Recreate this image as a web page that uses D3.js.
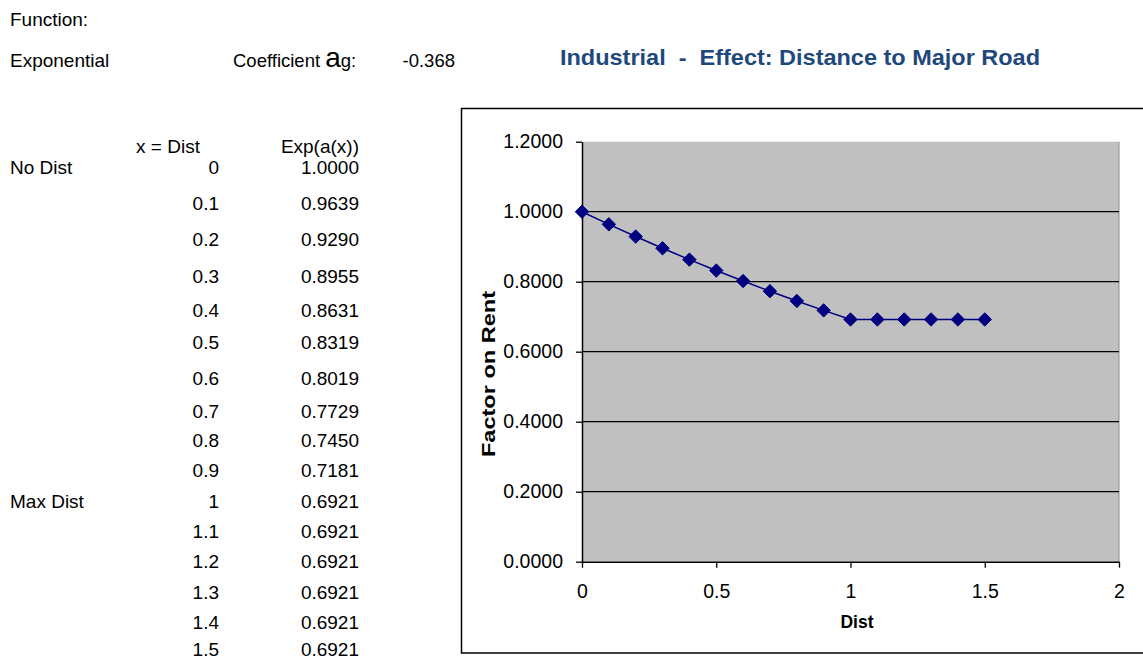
<!DOCTYPE html>
<html>
<head>
<meta charset="utf-8">
<script src="https://cdn.jsdelivr.net/npm/d3@7"></script>
<style>
  html, body { margin: 0; padding: 0; background: #fff; }
  svg text { font-family: "Liberation Sans", Arial, sans-serif; white-space: pre; }
</style>
</head>
<body>
<svg id="chart" width="1143" height="656"></svg>
<script>
// Rent factor for distance to a major road: f(x) = exp(a * x), capped at max distance
const coefficient = -0.368;
const distances = [0, 0.1, 0.2, 0.3, 0.4, 0.5, 0.6, 0.7, 0.8, 0.9, 1, 1.1, 1.2, 1.3, 1.4, 1.5];
const factors = [1.0000, 0.9639, 0.9290, 0.8955, 0.8631, 0.8319, 0.8019, 0.7729,
                 0.7450, 0.7181, 0.6921, 0.6921, 0.6921, 0.6921, 0.6921, 0.6921];
const rowNotes = ["No Dist", "", "", "", "", "", "", "", "", "", "Max Dist", "", "", "", "", ""];
const xTicks = [0, 0.5, 1, 1.5, 2];
const yTicks = [0, 0.2, 0.4, 0.6, 0.8, 1.0, 1.2];

const svg = d3.select("#chart");
const fmt4 = d3.format(".4f");

// ---- worksheet block on the left ----
const sheet = svg.append("g").attr("font-size", 19).attr("fill", "#000");
sheet.append("text").attr("x", 10).attr("y", 19).attr("dy", "0.36em").text("Function:");
sheet.append("text").attr("x", 10).attr("y", 60).attr("dy", "0.36em").text("Exponential");

const coef = sheet.append("text").attr("x", 233).attr("y", 60).attr("dy", "0.36em").attr("font-size", 18.5);
coef.append("tspan").text("Coefficient ");
coef.append("tspan").attr("font-size", 28).text("a");
coef.append("tspan").text("g:");
sheet.append("text").attr("x", 455).attr("y", 60).attr("dy", "0.36em")
  .attr("text-anchor", "end").attr("font-size", 18.5).text(String(coefficient));

sheet.append("text").attr("x", 168).attr("y", 146).attr("dy", "0.36em")
  .attr("text-anchor", "middle").text("x = Dist");
sheet.append("text").attr("x", 359).attr("y", 146).attr("dy", "0.36em")
  .attr("text-anchor", "end").text("Exp(a(x))");

// spreadsheet row centres (rows have slightly uneven heights)
const rowY = [167, 203, 239, 276, 310, 342, 378, 411, 440, 470, 501, 531, 561, 592, 622, 649];
const rows = sheet.selectAll("g.row").data(distances).join("g")
  .attr("class", "row")
  .attr("transform", (d, i) => `translate(0,${rowY[i]})`);
rows.append("text").attr("x", 10).attr("dy", "0.36em").text((d, i) => rowNotes[i]);
rows.append("text").attr("x", 219).attr("dy", "0.36em").attr("text-anchor", "end").text(d => String(d));
rows.append("text").attr("x", 359).attr("dy", "0.36em").attr("text-anchor", "end").text((d, i) => fmt4(factors[i]));

// ---- title ----
svg.append("text")
  .attr("x", 800).attr("y", 57).attr("dy", "0.36em")
  .attr("text-anchor", "middle")
  .attr("font-size", 22).attr("font-weight", "bold").attr("fill", "#1f497d")
  .attr("textLength", 480).attr("lengthAdjust", "spacingAndGlyphs")
  .text("Industrial  -  Effect: Distance to Major Road");

// ---- chart frame ----
svg.append("rect")
  .attr("x", 461.5).attr("y", 108.5).attr("width", 700).attr("height", 544.5)
  .attr("fill", "#fff").attr("stroke", "#000").attr("stroke-width", 1.5);

const x = d3.scaleLinear().domain([0, 2]).range([582, 1119]);
const y = d3.scaleLinear().domain([0, 1.2]).range([561.7, 141.7]);

// plot area
svg.append("rect")
  .attr("x", x(0)).attr("y", y(1.2))
  .attr("width", x(2) - x(0)).attr("height", y(0) - y(1.2))
  .attr("fill", "#c0c0c0");
svg.append("line")
  .attr("x1", x(2)).attr("x2", x(2)).attr("y1", y(1.2)).attr("y2", y(0))
  .attr("stroke", "#8c8c8c").attr("stroke-width", 1);

// horizontal gridlines
svg.append("g").selectAll("line").data(yTicks.filter(v => v > 0 && v < 1.2)).join("line")
  .attr("x1", x(0)).attr("x2", x(2))
  .attr("y1", d => y(d)).attr("y2", d => y(d))
  .attr("stroke", "#000").attr("stroke-width", 1.2);

// axes
const yAxis = svg.append("g").attr("transform", `translate(${x(0)},0)`)
  .call(d3.axisLeft(y).tickValues(yTicks).tickFormat(fmt4).tickSize(6).tickSizeOuter(0).tickPadding(13));
const xAxis = svg.append("g").attr("transform", `translate(0,${y(0)})`)
  .call(d3.axisBottom(x).tickValues(xTicks).tickFormat(d => String(d)).tickSize(6).tickSizeOuter(0).tickPadding(16));
[yAxis, xAxis].forEach(a => {
  a.select(".domain").attr("stroke", "#000").attr("stroke-width", 1.5);
  a.selectAll(".tick line").attr("stroke", "#000").attr("stroke-width", 1.3);
  a.selectAll(".tick text").attr("font-size", 19.5).attr("fill", "#000")
    .attr("font-family", "'Liberation Sans', Arial, sans-serif");
});

// axis titles
svg.append("text")
  .attr("x", 857).attr("y", 622).attr("dy", "0.36em").attr("text-anchor", "middle")
  .attr("font-size", 17.5).attr("font-weight", "bold").text("Dist");
svg.append("text")
  .attr("transform", "translate(489,374) rotate(-90)")
  .attr("dy", "0.36em").attr("text-anchor", "middle")
  .attr("font-size", 18).attr("font-weight", "bold")
  .attr("textLength", 166).attr("lengthAdjust", "spacingAndGlyphs")
  .text("Factor on Rent");

// series line and diamond markers
const pts = distances.map((d, i) => [d, factors[i]]);
svg.append("path")
  .attr("d", d3.line().x(d => x(d[0])).y(d => y(d[1]))(pts))
  .attr("fill", "none").attr("stroke", "#000080").attr("stroke-width", 1.5);
const diamond = d3.symbol().type(d3.symbolDiamond2).size(115);
svg.append("g").selectAll("path").data(pts).join("path")
  .attr("transform", d => `translate(${x(d[0])},${y(d[1])})`)
  .attr("d", diamond)
  .attr("fill", "#000080").attr("stroke", "#000080").attr("stroke-width", 1);
</script>
</body>
</html>
